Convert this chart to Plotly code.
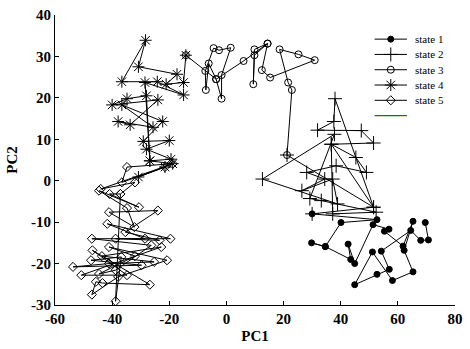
import plotly.graph_objects as go

# ---- data (PC1, PC2) ----
s1_x = [30.0, 52.7, 40.1, 34.6, 29.8, 34.6, 43.5, 42.6, 44.9, 51.3, 56.9, 55.3, 61.8, 65.3, 62.2,
        65.3, 58.1, 51.1, 44.9, 52.7, 57.0, 54.2, 64.5, 68.0, 70.7, 69.6]
s1_y = [-8.0, -9.4, -10.1, -15.9, -15.0, -15.9, -19.0, -15.3, -20.0, -10.6, -11.7, -12.2, -15.8, -9.8, -16.8,
        -22.0, -24.1, -17.2, -25.1, -22.6, -21.4, -17.0, -12.0, -14.4, -14.3, -10.1]

s2_x = [21.2, 51.5, 38.0, 37.6, 31.9, 47.2, 51.5, 36.7, 45.3, 49.0, 38.4, 28.1, 34.4, 26.4, 37.2,
        38.9, 12.6, 37.8, 29.2, 33.2, 52.4, 37.2, 36.7, 51.5, 30.0]
s2_y = [6.2, -6.4, 19.8, 14.3, 12.2, 12.1, 9.1, 8.8, 5.6, 2.0, 3.6, 2.0, 0.4, -2.4, 0.4,
        -5.6, 0.4, 11.2, -4.3, -4.8, -7.6, -8.0, 8.8, -6.4, -8.0]

s3_x = [-14.2, -3.6, -6.2, -7.2, -7.4, -4.5, -2.6, 1.5, -1.7, -1.7, -3.6, 6.0, 14.4, 9.8, 9.4,
        9.8, 14.4, 12.4, 15.3, 30.9, 25.2, 18.6, 21.6, 22.9, 21.2]
s3_y = [30.3, 24.5, 28.3, 21.9, 26.5, 32.0, 31.5, 32.1, 25.5, 19.8, 24.5, 28.9, 33.1, 31.7, 23.3,
        30.3, 33.1, 26.7, 24.9, 29.1, 30.5, 31.7, 23.7, 21.9, 6.2]

s4_x = [-21.5, -30.8, -18.8, -26.8, -19.4, -28.0, -20.0, -29.1, -22.3, -36.6, -25.7, -37.9, -33.7,
        -24.0, -40.0, -34.8, -28.0, -26.8, -28.5, -15.0, -24.2, -36.6, -28.3, -30.8, -17.3, -21.1,
        -15.0, -14.2]
s4_y = [3.3, 0.9, 4.1, 4.8, 5.2, 7.6, 9.7, 9.5, 14.3, 18.3, 12.9, 14.3, 13.5,
        19.5, 18.3, 19.8, 20.5, 4.8, 23.7, 20.7, 23.9, 23.9, 33.9, 27.5, 25.7, 23.3,
        23.7, 30.3]

s5_x = [-37.1, -38.8, -36.8, -47.4, -29.7, -53.7, -41.1, -25.3, -43.6, -22.8, -50.8, -34.8, -46.9,
        -26.8, -43.4, -45.7, -47.1, -37.9, -20.8, -41.1, -32.0, -44.6, -38.8, -26.3, -47.1, -28.5,
        -41.7, -19.6, -38.8, -23.4, -35.4, -24.0, -41.1, -32.2, -34.8, -44.6, -30.6, -40.9, -37.1,
        -32.0, -44.0, -18.8, -34.8, -36.6, -21.5]
s5_y = [-3.2, -29.1, -18.4, -19.2, -20.4, -20.8, -20.0, -19.6, -18.2, -16.0, -22.8, -22.8, -16.8,
        -25.1, -24.7, -24.4, -27.5, -23.2, -19.2, -16.0, -18.2, -22.5, -21.6, -15.6, -14.0, -14.0,
        -10.4, -14.0, -14.0, -14.4, -12.4, -7.2, -7.6, -11.2, -6.6, -2.4, -6.4, -3.2, -3.2,
        -0.4, -2.0, 4.1, 3.3, -0.4, 3.3]

x_ticks = [-60, -40, -20, 0, 20, 40, 60, 80]
x_ticktext = ["-60", "-40", "-20", "0", "20", "40", "60", "80"]
y_ticks = [-30, -20, -10, 0, 10, 20, 30, 40]
y_ticktext = ["-30", "-20", "-10", "0", "10", "20", "30", "40"]

names = ["state 1", "state 2", "state 3", "state 4", "state 5"]
xs = [s1_x, s2_x, s3_x, s4_x, s5_x]
ys = [s1_y, s2_y, s3_y, s4_y, s5_y]
symbols = ["circle", "cross-thin-open", "circle-open", "asterisk-open", "diamond-open"]
sizes = [6, 10, 7, 10, 7]

W, H = 470, 349
L, R, T, B = 55, 7, 13, 44

fig = go.Figure()
for n, x, y, sym, sz in zip(names, xs, ys, symbols, sizes):
    fig.add_trace(go.Scatter(
        x=x, y=y, name=n, mode="lines+markers", cliponaxis=False, showlegend=False,
        line=dict(color="black", width=1),
        marker=dict(symbol=sym, size=sz, color="black", line=dict(color="black", width=1)),
    ))

# ---- compact legend drawn on an overlay axis in pixel units ----
leg_x0, leg_x1, leg_txt = 381, 414, 420
leg_y0, leg_dy = 37.3, 15.4
annotations = []
for i, (n, sym, sz) in enumerate(zip(names, symbols, sizes)):
    yy = leg_y0 + i * leg_dy
    fig.add_trace(go.Scatter(x=[leg_x0, leg_x1], y=[yy, yy], mode="lines", xaxis="x2", yaxis="y2",
                             line=dict(color="black", width=1), showlegend=False,
                             hoverinfo="skip", cliponaxis=False))
    fig.add_trace(go.Scatter(x=[(leg_x0 + leg_x1) / 2], y=[yy], mode="markers", xaxis="x2", yaxis="y2",
                             marker=dict(symbol=sym, size=sz, color="black",
                                         line=dict(color="black", width=1)),
                             showlegend=False, hoverinfo="skip", cliponaxis=False))
    annotations.append(dict(x=leg_txt, y=yy, xref="x2", yref="y2", text=n, showarrow=False,
                            xanchor="left", yanchor="middle",
                            font=dict(family="Liberation Serif", size=11, color="black")))
yy = leg_y0 + 5 * leg_dy
fig.add_trace(go.Scatter(x=[leg_x0, leg_x1], y=[yy, yy], mode="lines", xaxis="x2", yaxis="y2",
                         line=dict(color="#008000", width=1.2), showlegend=False,
                         hoverinfo="skip", cliponaxis=False))

tickfont = dict(family="Liberation Serif", size=15, color="black", weight="bold")
titlefont = dict(family="Liberation Serif", size=15, color="black", weight="bold")
fig.update_layout(
    width=W, height=H,
    margin=dict(l=L, r=R, t=T, b=B),
    paper_bgcolor="white", plot_bgcolor="white",
    showlegend=False,
    annotations=annotations,
    xaxis=dict(range=[-60, 80], tickvals=x_ticks, ticktext=x_ticktext, showgrid=False, zeroline=False,
               showline=True, linecolor="black", linewidth=1, ticks="inside", ticklen=4,
               tickcolor="black", tickfont=tickfont, ticklabeloverflow="allow",
               title=dict(text="PC1", font=titlefont, standoff=4)),
    yaxis=dict(range=[-30, 40], tickvals=y_ticks, ticktext=y_ticktext, showgrid=False, zeroline=False,
               showline=True, linecolor="black", linewidth=1, ticks="inside", ticklen=4,
               tickcolor="black", tickfont=tickfont, ticklabeloverflow="allow",
               title=dict(text="PC2", font=titlefont, standoff=9)),
    xaxis2=dict(overlaying="x", range=[L, W - R], visible=False, fixedrange=True),
    yaxis2=dict(overlaying="y", range=[H - B, T], visible=False, fixedrange=True),
)
fig.write_html("out.html")
